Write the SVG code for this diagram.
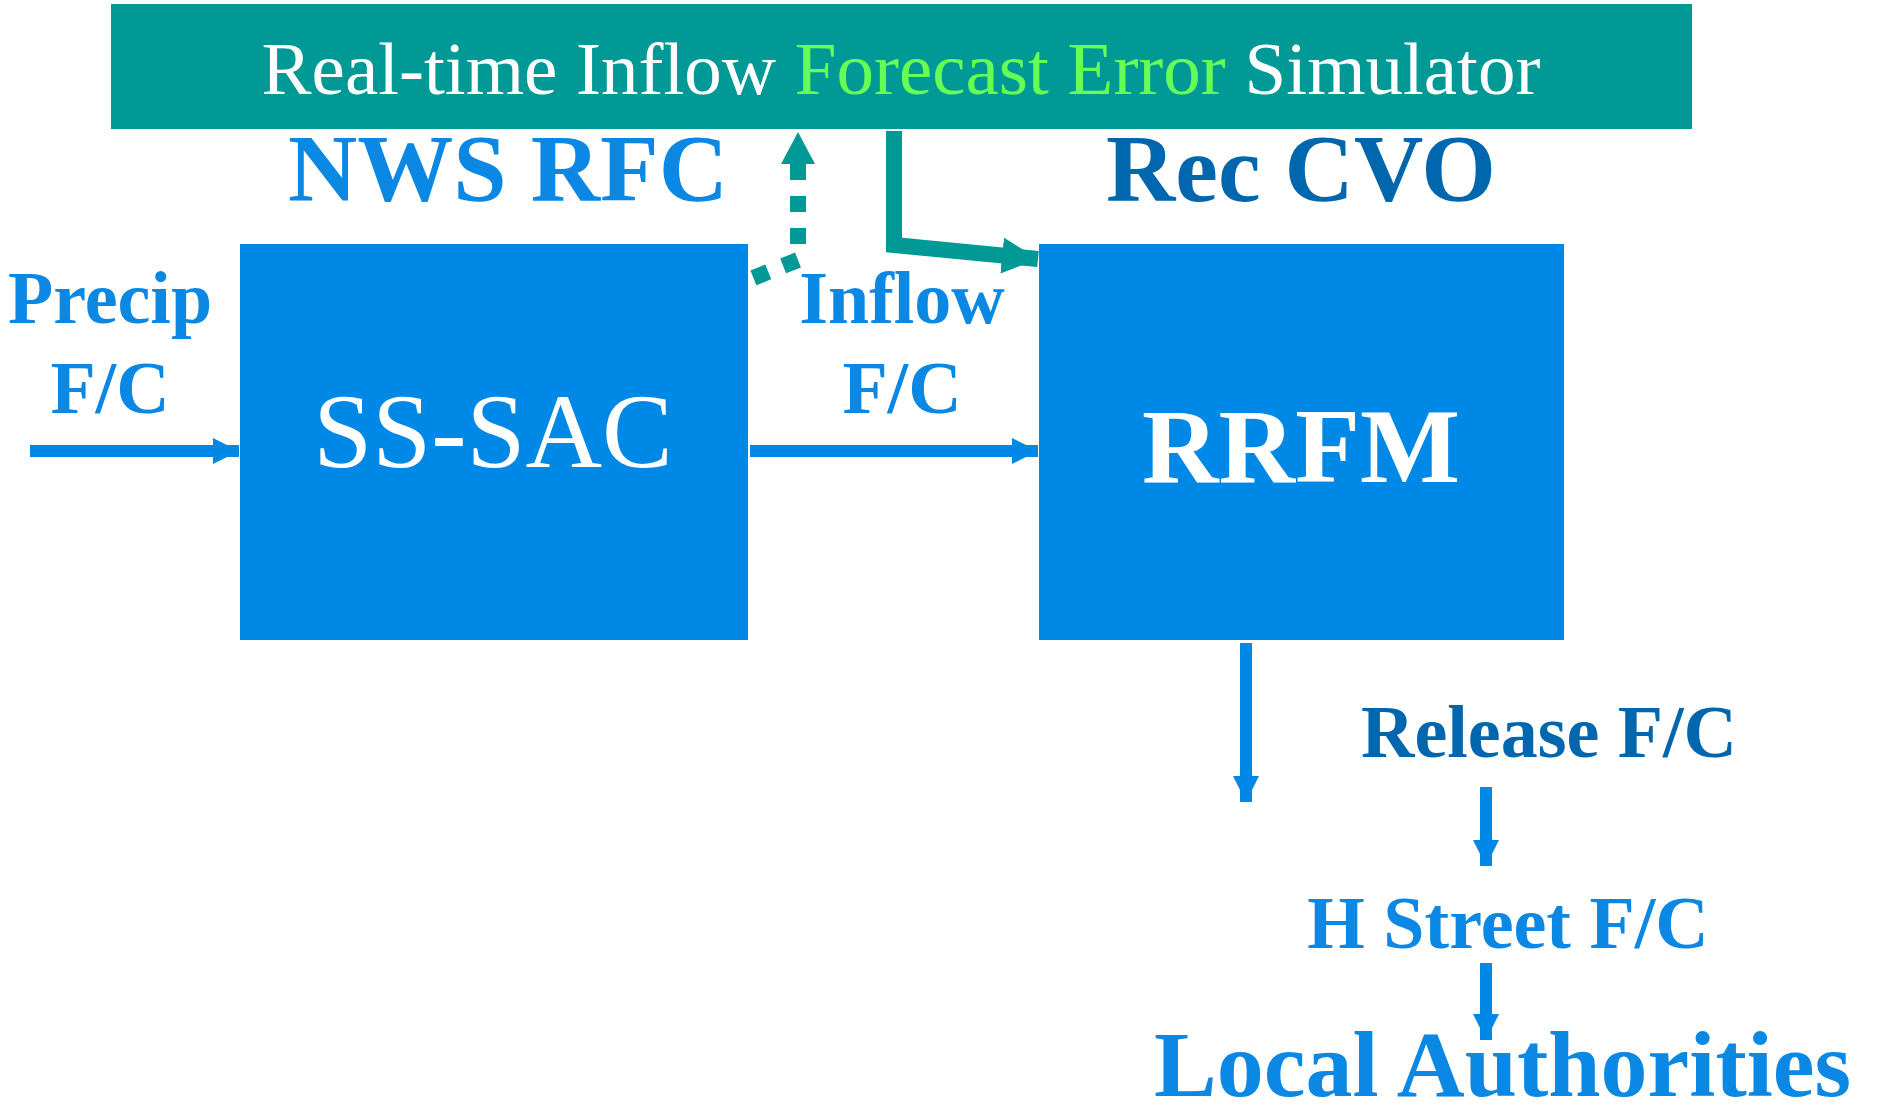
<svg xmlns="http://www.w3.org/2000/svg" width="1879" height="1117" viewBox="0 0 1879 1117">
<style>
.t{font-family:"Liberation Serif","Times New Roman",serif;}
.b{font-weight:bold;}
.lb{fill:#0A88E3;}
.db{fill:#0066AD;}
.box{fill:#0088E6;}
.bl{fill:none;stroke:#0088E6;stroke-width:12;}
.tl{fill:none;stroke:#009996;stroke-width:16;}
</style>
<defs>
<marker id="ab" markerUnits="userSpaceOnUse" markerWidth="26" markerHeight="26" viewBox="0 0 26 26" refX="26" refY="13" orient="auto"><path d="M0,0 L26,13 L0,26 z" fill="#0088E6"/></marker>
<marker id="at" markerUnits="userSpaceOnUse" markerWidth="36" markerHeight="36" viewBox="0 0 36 36" refX="36" refY="18" orient="auto"><path d="M0,0 L36,18 L0,36 z" fill="#009996"/></marker>
<marker id="ats" markerUnits="userSpaceOnUse" markerWidth="32" markerHeight="34" viewBox="0 0 32 34" refX="0" refY="17" orient="auto-start-reverse"><path d="M0,0 L32,17 L0,34 z" fill="#009996"/></marker>
</defs>
<rect width="1879" height="1117" fill="#fff"/>
<g id="simulator">
<rect x="111" y="4" width="1581" height="125" fill="#009996"/>
<text class="t" x="901" y="94" font-size="75" fill="#fff" text-anchor="middle">Real-time Inflow <tspan fill="#66FF55">Forecast Error</tspan> Simulator</text>
</g>
<g id="nws-rfc"><text class="t b lb" x="508" y="201" font-size="96" text-anchor="middle">NWS RFC</text></g>
<g id="rec-cvo"><text class="t b db" x="1301" y="201" font-size="96" text-anchor="middle">Rec CVO</text></g>
<g id="precip"><text class="t b lb" x="110" y="323" font-size="74" text-anchor="middle">Precip</text><text class="t b lb" x="110" y="413" font-size="74" text-anchor="middle">F/C</text></g>
<g id="ss-sac"><rect class="box" x="240" y="244" width="508" height="396"/><text class="t" x="493" y="467" font-size="106" fill="#fff" text-anchor="middle">SS-SAC</text></g>
<g id="inflow"><text class="t b lb" x="902" y="323" font-size="74" text-anchor="middle">Inflow</text><text class="t b lb" x="902" y="413" font-size="74" text-anchor="middle">F/C</text></g>
<g id="rrfm"><rect class="box" x="1039" y="244" width="525" height="396"/><text class="t b" x="1301" y="482" font-size="106" fill="#fff" text-anchor="middle">RRFM</text></g>
<g id="release"><text class="t b db" x="1549" y="757" font-size="74" text-anchor="middle">Release F/C</text></g>
<g id="hstreet"><text class="t b lb" x="1508" y="948" font-size="74" text-anchor="middle">H Street F/C</text></g>
<g id="local"><text class="t b lb" x="1154" y="1096" font-size="94">Local Authorities</text></g>
<g id="connectors">
<path class="bl" d="M30,451 L239,451" marker-end="url(#ab)"/>
<path class="bl" d="M750,451 L1038,451" marker-end="url(#ab)"/>
<path class="bl" d="M1246,643 L1246,802" marker-end="url(#ab)"/>
<path class="bl" d="M1486,787 L1486,866" marker-end="url(#ab)"/>
<path class="bl" d="M1486,963 L1486,1040" marker-end="url(#ab)"/>
<path class="tl" d="M894,131 L894,245 L1038,259" marker-end="url(#at)"/>
<path class="tl" d="M798,164 L798,260 L748,280" stroke-dasharray="16 16" marker-start="url(#ats)"/>
</g>
</svg>
